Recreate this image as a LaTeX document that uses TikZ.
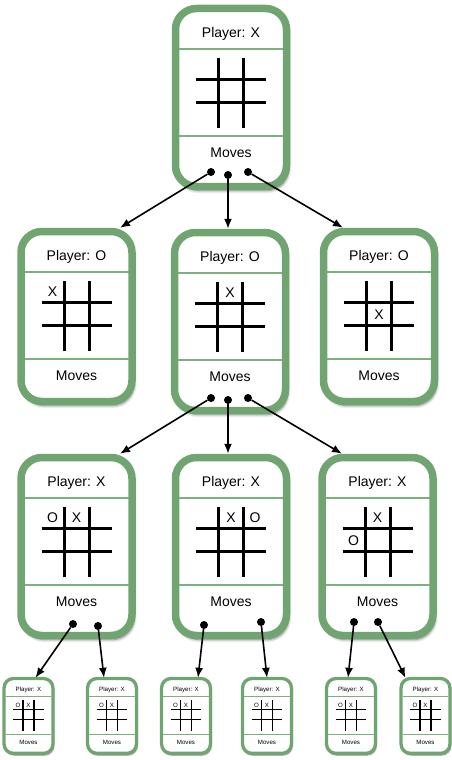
\documentclass[tikz,border=0pt]{standalone}
\usepackage{fontspec}
\setmainfont{Liberation Sans}
\usetikzlibrary{arrows.meta,calc,shadows.blur}
\definecolor{cardgreen}{RGB}{112,164,112}
\definecolor{sepgreen}{RGB}{125,176,125}
\def\cs{1}
\tikzset{
  cardbox/.style={draw=cardgreen, line width={7.5pt*\cs}, fill=white, rounded corners={21pt*\cs},
    minimum width=111pt, inner sep=0pt,
    blur shadow={shadow xshift={2pt*\cs}, shadow yshift={-4pt*\cs}, shadow blur radius={3pt*\cs},
      shadow blur steps=6, shadow opacity=55}},
  sepline/.style={draw=sepgreen, line width={2pt*\cs}},
  gridline/.style={draw=black, line width={3pt*\cs}},
  cardtext/.style={inner sep=0pt, font=\fontsize{14}{16}\selectfont},
  dotn/.style={circle, fill=black, inner sep=0pt, minimum size=8pt},
  arr/.style={line width=1.6pt, -{Latex[length=10pt,width=8pt]}},
}
% #1 name, #2 min height of the path, #3 centre y, #4 player, #5 marks col/row/text
\newcommand\ttcard[5]{%
  \node[cardbox, minimum height=#2] (#1) at (0,#3) {};
  \draw[sepline] (-52,44) -- (52,44);
  \draw[sepline] (-52,131) -- (52,131);
  \node[cardtext] (#1p) at (0,29) {Player: #4};
  \node[cardtext] (#1m) at (0,148) {Moves};
  \draw[gridline] (-12.5,53) -- (-12.5,123);
  \draw[gridline] (12.5,53) -- (12.5,123);
  \draw[gridline] (-35,74) -- (35,74);
  \draw[gridline] (-35,97) -- (35,97);
  \foreach \c/\r/\t in {#5} {
    \node[cardtext] (#1-\c-\r) at ({\c*24},{63.5+\r*23}) {\t};
  }
}
\begin{document}
\begin{tikzpicture}[x=1pt,y=-1pt]
\useasboundingbox (0,0) rectangle (452,760);

% row 1
\begin{scope}[shift={(231,5)}]
  \ttcard{c1}{178}{92.5}{X}{}
  \node[dotn] (c1d1) at (-20,167) {};
  \node[dotn] (c1d2) at (-3,170) {};
  \node[dotn] (c1d3) at (17,167) {};
\end{scope}

% row 2
\begin{scope}[shift={(76.5,228)}]
  \ttcard{c21}{170}{88.5}{O}{-1/0/X}
\end{scope}
\begin{scope}[shift={(230,229)}]
  \ttcard{c22}{178}{92.5}{O}{0/0/X}
  \node[dotn] (c22d1) at (-19,169) {};
  \node[dotn] (c22d2) at (-2,171) {};
  \node[dotn] (c22d3) at (18,169) {};
\end{scope}
\begin{scope}[shift={(379,228)}]
  \ttcard{c23}{170}{88.5}{O}{0/1/X}
\end{scope}

% row 3
\begin{scope}[shift={(76.5,454)}]
  \ttcard{c31}{178}{92.5}{X}{-1/0/O,0/0/X}
  \node[dotn] (c31d1) at (-3.5,170) {};
  \node[dotn] (c31d2) at (21.5,172) {};
\end{scope}
\begin{scope}[shift={(231,454)}]
  \ttcard{c32}{178}{92.5}{X}{0/0/X,1/0/O}
  \node[dotn] (c32d1) at (-27,171) {};
  \node[dotn] (c32d2) at (30,168) {};
\end{scope}
\begin{scope}[shift={(377.5,454)}]
  \ttcard{c33}{178}{92.5}{X}{0/0/X,-1/1/O}
  \node[dotn] (c33d1) at (-23.5,168) {};
  \node[dotn] (c33d2) at (0.5,168) {};
\end{scope}

% row 4 (small)
\foreach \n/\x in {s1/28.5,s2/112,s3/186,s4/267,s5/351,s6/425.5} {
  \begin{scope}[shift={(\x,677)}, scale=.44, transform shape]
    \def\cs{.44}
    \ttcard{\n}{170}{88.5}{X}{-1/0/O,0/0/X}
  \end{scope}
}

% connectors
\draw[arr] (c1d1) -- ($(c21.north)+(43.5,0)$);
\draw[arr] (c1d2) -- ($(c22.north)+(-2,0)$);
\draw[arr] (c1d3) -- ($(c23.north)+(-36,0)$);
\draw[arr] (c22d1) -- ($(c31.north)+(43.5,0)$);
\draw[arr] (c22d2) -- ($(c32.north)+(-3,0)$);
\draw[arr] (c22d3) -- ($(c33.north)+(-35.5,0)$);
\draw[arr] (c31d1) -- ($(s1.north)+(7,0)$);
\draw[arr] (c31d2) -- ($(s2.north)+(-8,0)$);
\draw[arr] (c32d1) -- ($(s3.north)+(12,0)$);
\draw[arr] (c32d2) -- ($(s4.north)+(0,0)$);
\draw[arr] (c33d1) -- ($(s5.north)+(-3,0)$);
\draw[arr] (c33d2) -- ($(s6.north)+(-20,0)$);
\end{tikzpicture}
\end{document}
